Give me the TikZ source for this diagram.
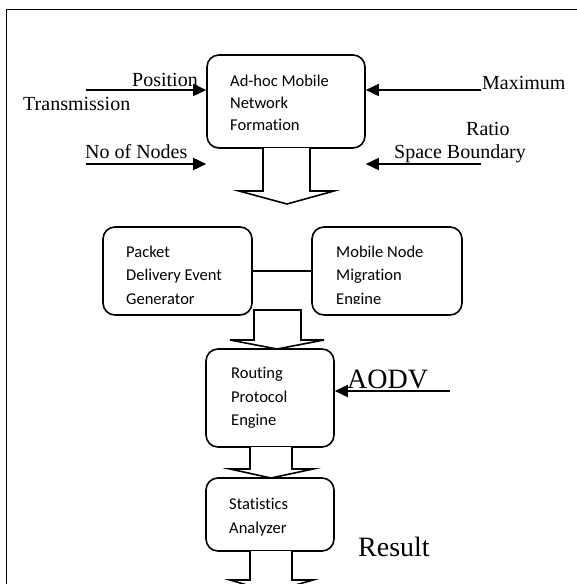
\documentclass[tikz,border=0pt]{standalone}
\usepackage{fontspec}
\setmainfont{Liberation Serif}
\newfontfamily\boxfont[Ligatures={NoCommon,NoContextual},RawFeature={-liga;-clig;-calt}]{Carlito}
\usetikzlibrary{arrows.meta}
\begin{document}
\begin{tikzpicture}[x=1pt,y=-1pt,
  box/.style={draw, line width=1.6pt, rounded corners=12pt, inner sep=0pt},
  btxt/.style={inner sep=0pt, anchor=base west, font=\boxfont\fontsize{16.5}{20}\selectfont},
  lbl/.style={inner sep=0pt, anchor=base west, font=\fontsize{20}{24}\selectfont},
  biglbl/.style={inner sep=0pt, anchor=base west, font=\fontsize{28}{32}\selectfont},
  arr/.style={line width=1.6pt, -{Triangle[length=13pt,width=12pt]}},
  blockarrow/.style={draw, line width=1.6pt, fill=white, line join=miter}]
\useasboundingbox (0,0) rectangle (577,584);
\clip (0,0) rectangle (577,584);
\fill[white] (0,0) rectangle (577,584);
% frame
\draw[line width=1.8pt] (6.5,600) -- (6.5,9.5) -- (600,9.5);

% boxes
\node[box, minimum width=158pt, minimum height=93pt] (adhoc) at (286,101.5) {};
\node[box, minimum width=149pt, minimum height=88pt] (packet) at (177.5,271) {};
\node[box, minimum width=150pt, minimum height=88pt] (mobile) at (387,271) {};
\node[box, minimum width=128pt, minimum height=98pt] (routing) at (270,398) {};
\node[box, minimum width=128pt, minimum height=73pt] (stats) at (270,514.5) {};

% box texts
\node[btxt] (t1) at (230,86) {Ad-hoc Mobile};
\node[btxt] (t2) at (230,108) {Network};
\node[btxt] (t3) at (230,130) {Formation};
\begin{scope}
\clip (103,227) rectangle (462,303);
\node[btxt] (p1) at (126,257) {Packet};
\node[btxt] (p2) at (126,280.5) {Delivery Event};
\node[btxt] (p3) at (126,304) {Generator};
\node[btxt] (m1) at (336,257) {Mobile Node};
\node[btxt] (m2) at (336,280.5) {Migration};
\node[btxt] (m3) at (336,304) {Engine};
\end{scope}
\node[btxt] (r1) at (231,378) {Routing};
\node[btxt] (r2) at (231,402) {Protocol};
\node[btxt] (r3) at (231,425) {Engine};
\node[btxt] (s1) at (229,509) {Statistics};
\node[btxt] (s2) at (229,533) {Analyzer};

% labels
\node[lbl] (lpos) at (132,86) {Position};
\node[lbl] (ltrans) at (23,110) {Transmission};
\node[lbl] (lnodes) at (85,158) {No of Nodes};
\node[lbl] (lmax) at (482,89) {Maximum};
\node[lbl] (lratio) at (466,135) {Ratio};
\node[lbl] (lspace) at (394,158) {Space Boundary};
\node[biglbl] (laodv) at (347,388) {AODV};
\node[biglbl] (lres) at (358,556) {Result};

% input arrows
\coordinate (a1) at (86,90);
\coordinate (a2) at (86,164);
\coordinate (a3) at (481,90);
\coordinate (a4) at (481,164);
\coordinate (a5) at (450,391);
\draw[arr] (a1) -- (a1 -| adhoc.west);
\draw[arr] (a2) -- (a2 -| adhoc.west);
\draw[arr] (a3) -- (a3 -| adhoc.east);
\draw[arr] (a4) -- (a4 -| adhoc.east);
\draw[arr] (a5) -- (a5 -| routing.east);

% link between packet and mobile
\draw[line width=1.6pt] (packet.east) -- (mobile.west);

% block arrows
\draw[blockarrow] (263,148) -- (263,191) -- (239,191) -- (287,204) -- (334,191) -- (310,191) -- (310,148);
\draw[blockarrow] (254,310) -- (254,340) -- (230,340) -- (277,349) -- (324,340) -- (301,340) -- (301,310) -- cycle;
\draw[blockarrow] (250,447) -- (250,469) -- (230,469) -- (271,478) -- (313,469) -- (292,469) -- (292,447);
\draw[blockarrow] (250,551) -- (250,580) -- (230,580) -- (271,592) -- (313,580) -- (292,580) -- (292,551);
\end{tikzpicture}
\end{document}
